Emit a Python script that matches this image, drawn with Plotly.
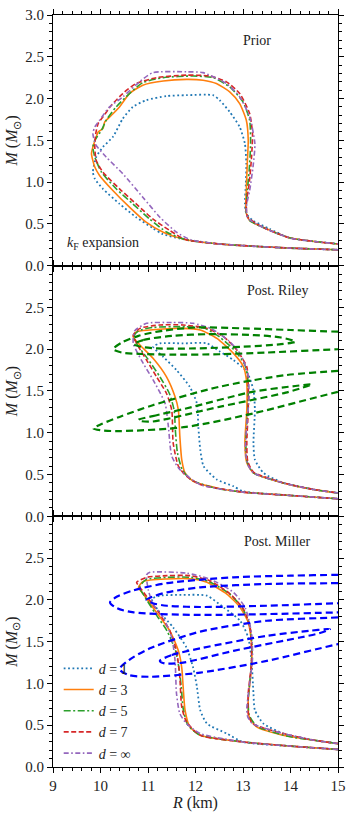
import plotly.graph_objs as go
from plotly.subplots import make_subplots

# ============================================== #
# Mass-radius bands, values  #
# R in km, M in solar masses                     #
# ============================================== #

d_names = ['<i>d</i> = 1', '<i>d</i> = 3', '<i>d</i> = 5', '<i>d</i> = 7', '<i>d</i> = ∞']
panel_titles = ['Prior', 'Post. Riley', 'Post. Miller']

# --- Prior ---
prior_d1_r = [15, 14.0, 13.0, 12.5, 11.8, 11.3, 11.1, 10.75, 10.4, 10.05, 9.88, 9.84, 9.91, 10.05, 10.26, 10.47, 10.68,
              10.96, 11.39, 11.81, 12.37, 12.51, 12.72, 12.93, 13.04, 13.07, 13.06, 13.04, 13.07, 13.21, 13.56, 14.0, 14.5, 15]
prior_d1_m = [0.19, 0.21, 0.24, 0.26, 0.31, 0.38, 0.45, 0.58, 0.74, 0.92, 1.04, 1.12, 1.3, 1.42, 1.54, 1.76, 1.9,
              1.98, 2.03, 2.04, 2.04, 1.98, 1.84, 1.66, 1.46, 1.22, 0.98, 0.74, 0.62, 0.54, 0.44, 0.33, 0.29, 0.26]
prior_d3_r = [15, 14.0, 13.0, 12.5, 11.8, 11.32, 10.96, 10.61, 10.26, 9.98, 9.88, 9.81, 9.84, 9.91, 9.95, 10.05, 10.09,
              10.23, 10.4, 10.61, 10.89, 11.32, 11.81, 12.16, 12.44, 12.72, 12.93, 13.07, 13.11, 13.09, 13.07, 13.06,
              13.14, 13.42, 14.0, 14.5, 15]
prior_d3_m = [0.19, 0.21, 0.24, 0.26, 0.31, 0.4, 0.52, 0.7, 0.9, 1.08, 1.18, 1.34, 1.42, 1.54, 1.6, 1.64, 1.72,
              1.8, 1.9, 2.06, 2.16, 2.21, 2.23, 2.22, 2.18, 2.08, 1.94, 1.74, 1.5, 1.22, 0.9, 0.66,
              0.54, 0.46, 0.33, 0.29, 0.26]
prior_d5_r = [15, 14.0, 13.0, 12.5, 11.8, 11.4, 11.03, 10.68, 10.33, 10.02, 9.88, 9.84, 9.88, 10.02, 10.12, 10.33,
              10.61, 10.89, 11.32, 11.95, 12.37, 12.72, 13.0, 13.14, 13.16, 13.13, 13.08, 13.07, 13.14, 13.45, 14.0, 14.5, 15]
prior_d5_m = [0.19, 0.21, 0.24, 0.26, 0.31, 0.4, 0.56, 0.74, 0.92, 1.12, 1.3, 1.42, 1.5, 1.62, 1.74, 1.9,
              2.06, 2.19, 2.25, 2.27, 2.25, 2.14, 1.96, 1.74, 1.46, 1.14, 0.82, 0.64, 0.54, 0.45, 0.33, 0.29, 0.26]
prior_d7_r = [15, 14.0, 13.0, 12.5, 11.8, 11.46, 11.1, 10.75, 10.4, 10.05, 9.91, 9.88, 9.9, 9.95, 10.05, 10.23,
              10.47, 10.75, 11.18, 11.81, 12.3, 12.65, 12.93, 13.14, 13.2, 13.18, 13.13, 13.07, 13.1, 13.45, 14.0, 14.5, 15]
prior_d7_m = [0.19, 0.21, 0.24, 0.26, 0.31, 0.42, 0.56, 0.74, 0.92, 1.12, 1.26, 1.42, 1.58, 1.7, 1.78, 1.92,
              2.06, 2.18, 2.25, 2.28, 2.27, 2.2, 2.06, 1.82, 1.58, 1.3, 0.98, 0.74, 0.58, 0.45, 0.33, 0.29, 0.26]
prior_dinf_r = [15, 14.0, 13.0, 12.5, 11.9, 11.6, 11.25, 10.89, 10.47, 10.12, 9.9, 9.84, 9.88, 9.98, 10.19, 10.47,
                10.82, 11.1, 11.81, 12.16, 12.65, 12.93, 13.14, 13.25, 13.21, 13.14, 13.07, 13.1, 13.45, 14.0, 14.5, 15]
prior_dinf_m = [0.19, 0.21, 0.24, 0.26, 0.31, 0.4, 0.58, 0.82, 1.1, 1.3, 1.45, 1.58, 1.66, 1.74, 1.9, 2.02,
                2.2, 2.31, 2.32, 2.31, 2.18, 2.02, 1.78, 1.46, 1.18, 0.9, 0.7, 0.57, 0.45, 0.33, 0.29, 0.26]

# --- Posterior, Riley ---
riley_d1_r = [15, 14.0, 13.0, 12.8, 12.45, 12.17, 12.1, 12.06, 12.03, 11.88, 11.6, 11.32, 11.11, 11.25, 11.74,
              12.24, 12.52, 12.8, 13.08, 13.22, 13.25, 13.22, 13.25, 13.43, 13.85, 14.5, 15]
riley_d1_m = [0.21, 0.25, 0.3, 0.36, 0.44, 0.6, 0.8, 1.07, 1.35, 1.55, 1.75, 1.91, 2.03, 2.07, 2.07,
              2.07, 1.97, 1.87, 1.73, 1.51, 1.27, 0.88, 0.68, 0.52, 0.4, 0.32, 0.28]
riley_d3_r = [15, 14.0, 13.0, 12.45, 11.95, 11.78, 11.71, 11.67, 11.64, 11.57, 11.39, 11.11, 10.83, 10.69, 10.76,
              11.04, 11.74, 12.1, 12.45, 12.8, 13.01, 13.08, 13.08, 13.04, 13.08, 13.22, 13.85, 14.5, 15]
riley_d3_m = [0.21, 0.25, 0.29, 0.34, 0.42, 0.52, 0.68, 0.96, 1.27, 1.43, 1.67, 1.89, 2.05, 2.15, 2.21,
              2.23, 2.25, 2.23, 2.13, 1.95, 1.79, 1.59, 1.27, 0.88, 0.64, 0.52, 0.4, 0.32, 0.28]
riley_d5_r = [15, 14.0, 13.0, 12.4, 11.9, 11.72, 11.62, 11.58, 11.55, 11.45, 11.25, 11.0, 10.78, 10.7, 10.8,
              11.1, 11.8, 12.2, 12.5, 12.85, 13.05, 13.11, 13.1, 13.06, 13.09, 13.22, 13.85, 14.5, 15]
riley_d5_m = [0.21, 0.25, 0.29, 0.34, 0.44, 0.56, 0.76, 1.0, 1.27, 1.47, 1.67, 1.88, 2.05, 2.15, 2.22,
              2.26, 2.27, 2.25, 2.15, 1.97, 1.8, 1.59, 1.27, 0.88, 0.65, 0.52, 0.4, 0.32, 0.28]
riley_d7_r = [15, 14.0, 13.0, 12.1, 11.81, 11.64, 11.53, 11.5, 11.39, 11.18, 10.97, 10.76, 10.69, 10.83, 11.25,
              11.74, 12.24, 12.59, 12.87, 13.08, 13.11, 13.11, 13.08, 13.1, 13.22, 13.85, 14.5, 15]
riley_d7_m = [0.21, 0.25, 0.29, 0.38, 0.48, 0.6, 0.88, 1.27, 1.47, 1.67, 1.87, 2.07, 2.17, 2.25, 2.29,
              2.29, 2.25, 2.15, 1.99, 1.79, 1.55, 1.27, 0.88, 0.66, 0.53, 0.4, 0.32, 0.28]
riley_dinf_r = [15, 14.0, 13.0, 12.1, 11.67, 11.5, 11.43, 11.36, 11.11, 10.9, 10.69, 10.72, 10.97, 11.5, 11.95,
                12.35, 12.7, 12.95, 13.1, 13.13, 13.08, 13.05, 13.1, 13.22, 13.85, 14.5, 15]
riley_dinf_m = [0.21, 0.25, 0.29, 0.38, 0.56, 0.72, 1.07, 1.35, 1.63, 1.83, 2.07, 2.22, 2.31, 2.32, 2.31,
                2.24, 2.1, 1.94, 1.7, 1.45, 1.1, 0.8, 0.62, 0.52, 0.4, 0.32, 0.28]

# --- Posterior, Miller ---
miller_d1_r = [15, 14.0, 13.0, 12.66, 12.24, 12.1, 12.03, 11.95, 11.81, 11.53, 11.22, 11.08, 11.25, 11.74, 12.24,
               12.59, 12.94, 13.11, 13.18, 13.22, 13.25, 13.43, 13.85, 14.5, 15]
miller_d1_m = [0.21, 0.25, 0.3, 0.4, 0.52, 0.68, 0.96, 1.19, 1.43, 1.67, 1.87, 2.01, 2.05, 2.06, 2.05,
               1.91, 1.75, 1.55, 1.27, 0.88, 0.68, 0.52, 0.4, 0.32, 0.28]
miller_d3_r = [15, 14.0, 13.0, 12.1, 11.88, 11.78, 11.74, 11.71, 11.64, 11.46, 11.18, 10.9, 10.8, 10.9, 11.39,
               11.95, 12.24, 12.66, 12.94, 13.11, 13.18, 13.18, 13.11, 13.13, 13.29, 13.92, 14.5, 15]
miller_d3_m = [0.21, 0.25, 0.3, 0.38, 0.48, 0.68, 0.96, 1.19, 1.39, 1.63, 1.85, 2.07, 2.15, 2.22, 2.25,
               2.25, 2.21, 2.07, 1.91, 1.73, 1.47, 1.19, 0.8, 0.6, 0.48, 0.37, 0.32, 0.28]
miller_d5_r = [15, 14.0, 13.0, 12.1, 11.84, 11.74, 11.7, 11.65, 11.58, 11.4, 11.15, 10.92, 10.82, 10.95, 11.4,
               11.9, 12.28, 12.7, 12.98, 13.13, 13.19, 13.17, 13.11, 13.13, 13.29, 13.92, 14.5, 15]
miller_d5_m = [0.21, 0.25, 0.3, 0.38, 0.5, 0.7, 0.96, 1.19, 1.39, 1.63, 1.84, 2.05, 2.15, 2.24, 2.27,
               2.27, 2.22, 2.08, 1.91, 1.72, 1.47, 1.19, 0.8, 0.62, 0.49, 0.37, 0.32, 0.28]
miller_d7_r = [15, 14.0, 13.0, 12.1, 11.81, 11.71, 11.67, 11.6, 11.46, 11.25, 11.04, 10.83, 10.76, 10.97, 11.4,
               11.88, 12.3, 12.73, 13.01, 13.15, 13.18, 13.11, 13.11, 13.2, 13.85, 14.5, 15]
miller_d7_m = [0.21, 0.25, 0.3, 0.38, 0.54, 0.72, 1.07, 1.39, 1.63, 1.83, 1.99, 2.15, 2.21, 2.27, 2.29,
               2.29, 2.23, 2.07, 1.89, 1.67, 1.27, 0.88, 0.64, 0.52, 0.4, 0.32, 0.28]
miller_dinf_r = [15, 14.0, 13.0, 12.1, 11.81, 11.67, 11.6, 11.57, 11.5, 11.32, 11.11, 11.01, 10.97, 11.04, 11.81,
                 12.3, 12.8, 13.05, 13.18, 13.2, 13.13, 13.08, 13.1, 13.2, 13.85, 14.5, 15]
miller_dinf_m = [0.21, 0.25, 0.3, 0.4, 0.52, 0.64, 0.88, 1.27, 1.55, 1.79, 1.95, 2.11, 2.3, 2.33, 2.32,
                 2.25, 2.09, 1.9, 1.6, 1.3, 0.95, 0.7, 0.6, 0.52, 0.4, 0.32, 0.28]

# --- NICER credible contours (inner / outer), closed beyond R = 15 ---
riley_j0740_out_r = [16, 15, 14, 13, 12, 11.3, 10.8, 10.45, 10.27, 10.45, 10.8, 11.5, 12.5, 13.5, 15, 16, 16]
riley_j0740_out_m = [2.2, 2.21, 2.23, 2.25, 2.26, 2.22, 2.16, 2.08, 2.0, 1.96, 1.945, 1.935, 1.94, 1.96, 2.0, 2.02, 2.2]
riley_j0740_in_r = [10.7, 10.9, 11.5, 12.3, 13.2, 13.8, 14.1, 13.8, 13.0, 12.0, 11.2, 10.85, 10.7]
riley_j0740_in_m = [2.06, 2.11, 2.16, 2.18, 2.17, 2.14, 2.09, 2.06, 2.03, 2.01, 2.01, 2.03, 2.06]
riley_j0030_out_r = [16, 15, 13.9, 12.5, 11.1, 10.4, 10.0, 9.85, 10.0, 10.4, 11.8, 13.2, 15, 16, 16]
riley_j0030_out_m = [1.78, 1.74, 1.69, 1.55, 1.33, 1.19, 1.1, 1.05, 1.03, 1.02, 1.07, 1.23, 1.49, 1.62, 1.78]
riley_j0030_in_r = [10.8, 11.1, 11.8, 13.2, 14.1, 14.45, 14.2, 13.9, 12.5, 11.1, 10.85, 10.8]
riley_j0030_in_m = [1.155, 1.2, 1.29, 1.49, 1.56, 1.58, 1.53, 1.48, 1.31, 1.135, 1.14, 1.155]

miller_j0740_out_r = [16, 15, 14, 12.8, 11.4, 10.7, 10.35, 10.2, 10.35, 10.7, 12.1, 13.5, 15, 16, 16]
miller_j0740_out_m = [2.31, 2.3, 2.29, 2.27, 2.2, 2.115, 2.04, 1.97, 1.9, 1.85, 1.82, 1.83, 1.85, 1.86, 2.31]
miller_j0740_in_r = [16, 15, 13.5, 12.1, 11.4, 11.1, 10.97, 11.1, 11.4, 12.1, 13.5, 15, 16, 16]
miller_j0740_in_m = [2.2, 2.2, 2.19, 2.15, 2.09, 2.04, 2.0, 1.96, 1.93, 1.915, 1.93, 1.96, 1.98, 2.2]
miller_j0030_out_r = [16, 15, 13.5, 12.1, 11.04, 10.6, 10.4, 10.6, 11.04, 12.1, 13.5, 15, 16, 16]
miller_j0030_out_m = [1.82, 1.79, 1.75, 1.62, 1.42, 1.28, 1.17, 1.1, 1.08, 1.13, 1.27, 1.47, 1.58, 1.82]
miller_j0030_in_r = [11.25, 11.5, 12.1, 13.5, 14.4, 14.83, 14.6, 14.2, 12.8, 11.74, 11.35, 11.25]
miller_j0030_in_m = [1.27, 1.34, 1.42, 1.57, 1.63, 1.65, 1.6, 1.55, 1.39, 1.25, 1.24, 1.27]

m_ticks = [0, 0.5, 1.0, 1.5, 2.0, 2.5, 3.0]


FONT = 'Liberation Serif'
line_styles = [
    dict(color='#1f77b4', width=1.8, dash='1.8px,2.6px'),
    dict(color='#ff7f0e', width=1.6, dash='solid'),
    dict(color='#2ca02c', width=1.6, dash='7px,2.5px,2px,2.5px'),
    dict(color='#d62728', width=1.6, dash='5px,2.5px'),
    dict(color='#9467bd', width=1.6, dash='5px,2.5px,1.6px,2.5px'),
]

panels = [
    [(prior_d1_r, prior_d1_m), (prior_d3_r, prior_d3_m), (prior_d5_r, prior_d5_m),
     (prior_d7_r, prior_d7_m), (prior_dinf_r, prior_dinf_m)],
    [(riley_d1_r, riley_d1_m), (riley_d3_r, riley_d3_m), (riley_d5_r, riley_d5_m),
     (riley_d7_r, riley_d7_m), (riley_dinf_r, riley_dinf_m)],
    [(miller_d1_r, miller_d1_m), (miller_d3_r, miller_d3_m), (miller_d5_r, miller_d5_m),
     (miller_d7_r, miller_d7_m), (miller_dinf_r, miller_dinf_m)],
]
contours = {
    2: ('green', [(riley_j0740_out_r, riley_j0740_out_m), (riley_j0740_in_r, riley_j0740_in_m),
                  (riley_j0030_out_r, riley_j0030_out_m), (riley_j0030_in_r, riley_j0030_in_m)]),
    3: ('#0000ff', [(miller_j0740_out_r, miller_j0740_out_m), (miller_j0740_in_r, miller_j0740_in_m),
                    (miller_j0030_out_r, miller_j0030_out_m), (miller_j0030_in_r, miller_j0030_in_m)]),
}

fig = make_subplots(rows=3, cols=1, shared_xaxes=True, vertical_spacing=0)

for row, curves in enumerate(panels, start=1):
    for i, (r, m) in enumerate(curves):
        fig.add_trace(go.Scatter(
            x=r, y=m, mode='lines', name=d_names[i],
            line=dict(shape='spline', smoothing=0.6, **line_styles[i]),
            legendgroup=str(i), showlegend=(row == 3),
        ), row=row, col=1)
    if row in contours:
        color, loops = contours[row]
        for r, m in loops:
            fig.add_trace(go.Scatter(
                x=r, y=m, mode='lines', showlegend=False,
                line=dict(color=color, width=2.2, dash='7px,4px', shape='spline', smoothing=0.8),
            ), row=row, col=1)

    fig.add_annotation(text=panel_titles[row - 1], x=13.3 if row == 1 else 13.72, y=2.7,
                       showarrow=False, font=dict(family=FONT, size=14, color='#222'),
                       row=row, col=1)

fig.add_annotation(text='<i>k</i><sub>F</sub> expansion', x=9.25, y=0.27, xanchor='left',
                   showarrow=False, font=dict(family=FONT, size=14, color='#222'), row=1, col=1)

# inside ticks do not render here, so the ticks sit outside the frame (mirrored on all sides)
axis_common = dict(showline=True, linecolor='black', linewidth=1, mirror='allticks', ticks='outside',
                   ticklen=5, tickwidth=1.2, tickcolor='black', showgrid=False, zeroline=False,
                   automargin=False, tickfont=dict(family=FONT, size=15, color='#222'))

for row in range(1, 4):
    fig.update_xaxes(range=[9, 15], tickmode='linear', dtick=1, tick0=9,
                     minor=dict(ticks='outside', ticklen=3, tickwidth=1.2, dtick=0.2, tick0=9,
                                tickcolor='black', showgrid=False),
                     showticklabels=(row == 3), row=row, col=1, **axis_common)
    fig.update_yaxes(range=[0, 3.0], tickmode='array', tickvals=m_ticks,
                     ticktext=['0.0', '0.5', '1.0', '1.5', '2.0', '2.5', '3.0' if row == 1 else ''],
                     minor=dict(ticks='outside', ticklen=3, tickwidth=1.2, dtick=0.1, tick0=0,
                                tickcolor='black', showgrid=False),
                     title=dict(text='<i>M</i> (<i>M</i><sub>⊙</sub>)', standoff=3,
                                font=dict(family=FONT, size=16, color='#222')),
                     row=row, col=1, **axis_common)

fig.update_xaxes(title=dict(text='<i>R</i> (km)', standoff=0, font=dict(family=FONT, size=16, color='#222')),
                 row=3, col=1)

fig.update_layout(
    template='none',
    width=353, height=814,
    margin=dict(l=53, r=15, t=15, b=47),
    plot_bgcolor='rgba(0,0,0,0)', paper_bgcolor='white',
    legend=dict(x=0.02, y=0.152, xanchor='left', yanchor='top', bgcolor='rgba(0,0,0,0)',
                font=dict(family=FONT, size=14, color='#222'), tracegroupgap=0),
)

# the page body has a default 8px margin; drop it so the figure sits at the window corner
fig.write_html("out.html", config={'displayModeBar': False},
               post_script="document.body.style.margin = '0';")
